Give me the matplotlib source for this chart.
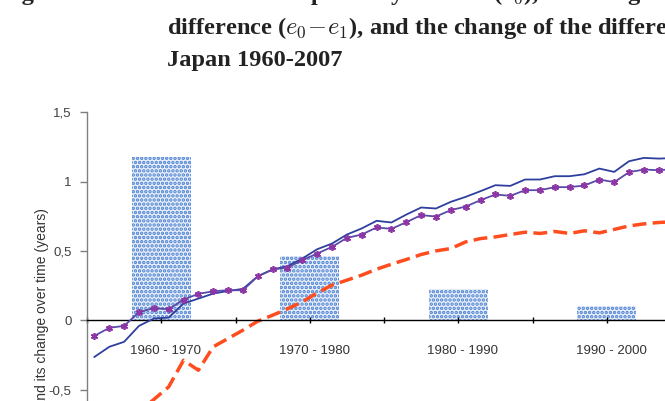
import numpy as np
import matplotlib
matplotlib.use("Agg")
from matplotlib import pyplot as plt
from matplotlib.ticker import FuncFormatter

plt.rcParams["mathtext.fontset"] = "cm"
plt.rcParams["hatch.linewidth"] = 1.7

# decade bars (change of the difference)
decades = ["1960 - 1970", "1970 - 1980", "1980 - 1990", "1990 - 2000"]
decade_mid = [1964.5, 1974.5, 1984.5, 1994.5]
decade_change = [1.18, 0.46, 0.225, 0.105]

years = list(range(1960, 2001))
# solid blue line
line_blue = [-0.265, -0.192, -0.156, -0.041, 0.012, 0.019, 0.12, 0.156, 0.192, 0.211,
             0.226, 0.317, 0.366, 0.39, 0.445, 0.512, 0.553, 0.618, 0.662, 0.717,
             0.705, 0.762, 0.813, 0.806, 0.854, 0.89, 0.931, 0.974, 0.969, 1.015,
             1.015, 1.039, 1.039, 1.053, 1.094, 1.07, 1.147, 1.171, 1.166, 1.17, 1.18]
# purple line with star markers
line_star = [-0.113, -0.055, -0.041, 0.058, 0.087, 0.079, 0.149, 0.19, 0.209, 0.216,
             0.216, 0.317, 0.366, 0.38, 0.433, 0.481, 0.529, 0.594, 0.618, 0.669,
             0.659, 0.707, 0.758, 0.748, 0.794, 0.82, 0.866, 0.907, 0.897, 0.938,
             0.938, 0.96, 0.96, 0.972, 1.015, 0.996, 1.068, 1.087, 1.082, 1.09, 1.10]
# red dashed line
line_dash = [-0.95, -0.85, -0.75, -0.66, -0.572, -0.481, -0.289, -0.361, -0.192, -0.132,
             -0.072, -0.007, 0.036, 0.082, 0.132, 0.197, 0.253, 0.289, 0.325, 0.368,
             0.404, 0.438, 0.474, 0.5, 0.517, 0.565, 0.589, 0.601, 0.618, 0.635,
             0.626, 0.64, 0.626, 0.645, 0.63, 0.655, 0.68, 0.695, 0.705, 0.71, 0.72]

W, H = 665, 401
fig = plt.figure(figsize=(W / 100, H / 100), dpi=100)

# axes is larger than the picture: the original figure is cropped right and bottom
px_year = 14.85
px_unit = 138.6
x0, y_top = 87, 112.3
ax = fig.add_axes([x0 / W, (H - (y_top + 2.5 * px_unit)) / H,
                   48 * px_year / W, 2.5 * px_unit / H])
ax.set_xlim(1959.5, 2007.5)
ax.set_ylim(-1.0, 1.5)

ax.bar(decade_mid, decade_change, width=4.0, facecolor="#e8effa",
       edgecolor="#4a80d0", linewidth=0, hatch="....", zorder=1)

ax.plot(years, line_dash, color="#ff4d1f", lw=2.5, dashes=(4, 1.8), zorder=2)
ax.plot(years, line_blue, color="#2f3f9e", lw=1.3, zorder=3)
ax.plot(years, line_star, color="#5a4aa8", lw=1.3, marker=(6, 2, 0), ms=5,
        mew=1.2, mec="#8e35a6", mfc="#c89ad6", zorder=4)

for lab, xm in zip(decades, decade_mid):
    ax.text(xm + 0.3, -0.224, lab, ha="center", va="center", fontsize=9.5,
            family="Liberation Sans", color="#333333")

ax.spines["top"].set_visible(False)
ax.spines["right"].set_visible(False)
ax.spines["bottom"].set_position(("data", 0))
ax.spines["bottom"].set_color("black")
ax.spines["bottom"].set_linewidth(1.0)
ax.spines["left"].set_color("#808080")
ax.spines["left"].set_linewidth(1.0)

ax.set_xticks(np.arange(1959.5, 2008, 5))
ax.tick_params(axis="x", direction="inout", length=5, width=1, color="black",
               labelbottom=False)
ax.set_yticks([-1, -0.5, 0, 0.5, 1, 1.5])
ax.yaxis.set_major_formatter(FuncFormatter(lambda v, p: f"{v:g}".replace(".", ",")))
ax.tick_params(axis="y", direction="out", length=5, width=1, color="#808080",
               labelsize=9.5, labelcolor="#404040", pad=6)
for t in ax.get_yticklabels():
    t.set_family("Liberation Sans")

fig.text(42 / W, 1 - 208 / H, "Difference and its change over time (years)",
         rotation=90, ha="center", va="top", fontsize=10, family="Liberation Sans",
         color="#333333")

title_kw = dict(family="Liberation Serif", weight="bold", fontsize=17.6,
                color="#222222", va="baseline", ha="left")
fig.text(0 / W, 1 - 0 / H, "Figure 3:", **title_kw)
fig.text(167 / W, 1 - 0 / H, r"Female life expectancy at birth ($e_0$), and the gender", **title_kw)
fig.text(167 / W, 1 - 34 / H, r"difference ($e_0\!-\!e_1$), and the change of the difference", **title_kw)
fig.text(167 / W, 1 - 66 / H, "Japan 1960-2007", **title_kw)

fig.savefig("out.png", dpi=100)
